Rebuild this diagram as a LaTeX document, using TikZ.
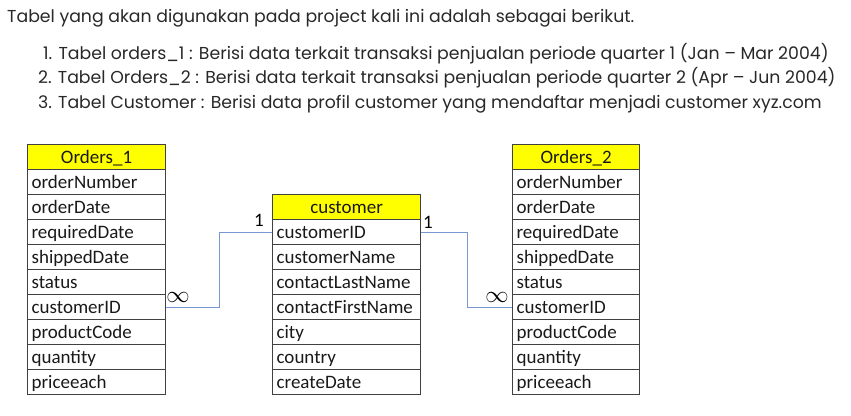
\documentclass[tikz,border=0pt]{standalone}
\usepackage{fontspec}
\setmainfont{Carlito}
\newfontfamily\poppins{Poppins}
\usetikzlibrary{positioning}
\definecolor{hdryellow}{RGB}{255,255,0}
\definecolor{linkblue}{RGB}{120,150,210}
\definecolor{gridgray}{RGB}{65,65,65}
\definecolor{introgray}{RGB}{40,40,40}
\tikzset{
  field/.style={draw=gridgray, line width=1.2pt, anchor=north west, inner xsep=4pt, inner ysep=0pt,
    minimum height=25pt, text width=#1, align=left, text height=15.5pt, text depth=2.5pt,
    font=\fontsize{19}{19}\selectfont, text=black!90},
  tblhead/.style={field=#1, fill=hdryellow, align=center},
  link/.style={draw=linkblue, line width=1.2pt},
  card/.style={inner sep=0pt, font=\fontsize{19}{19}\selectfont},
  intro/.style={anchor=base west, inner sep=0pt, text=introgray, font=\poppins\fontsize{17.3}{17.3}\selectfont}
}
\begin{document}
\begin{tikzpicture}[x=1pt,y=-1pt]
  \useasboundingbox (0,0) rectangle (851,415);
  % intro text
  \node[intro] (t0) at (7,22.7) {Tabel yang akan digunakan pada project kali ini adalah sebagai berikut.};
  \node[intro] (t1) at (43,59) {1. Tabel orders\_1 : Berisi data terkait transaksi penjualan periode quarter 1 (Jan – Mar 2004)};
  \node[intro] (t2) at (38,83.5) {2. Tabel Orders\_2 : Berisi data terkait transaksi penjualan periode quarter 2 (Apr – Jun 2004)};
  \node[intro] (t3) at (38,108) {3. Tabel Customer : Berisi data profil customer yang mendaftar menjadi customer xyz.com};

  % Orders_1
  \node[tblhead=130pt] (oa-0) at (27,144) {Orders\_1};
  \foreach \name [count=\i] in {orderNumber,orderDate,requiredDate,shippedDate,status,customerID,productCode,quantity,priceeach}
    \node[field=130pt] (oa-\i) at (27,{144+25*\i}) {\name};

  % customer
  \node[tblhead=140pt] (cu-0) at (272,194) {customer};
  \foreach \name [count=\i] in {customerID,customerName,contactLastName,contactFirstName,city,country,createDate}
    \node[field=140pt] (cu-\i) at (272,{194+25*\i}) {\name};

  % Orders_2
  \node[tblhead=119pt] (ob-0) at (512,144) {Orders\_2};
  \foreach \name [count=\i] in {orderNumber,orderDate,requiredDate,shippedDate,status,customerID,productCode,quantity,priceeach}
    \node[field=119pt] (ob-\i) at (512,{144+25*\i}) {\name};

  % relations
  \draw[link] (oa-6.east) -- ++(53,0) |- (cu-1.west);
  \draw[link] (cu-1.east) -- ++(46,0) |- (ob-6.west);
  \node[card] (m1) at (178,297) {\scalebox{1.35}{$\infty$}};
  \node[card] (o1) at (259,220) {1};
  \node[card] (o2) at (428,222) {1};
  \node[card] (m2) at (497,297) {\scalebox{1.35}{$\infty$}};
\end{tikzpicture}
\end{document}
